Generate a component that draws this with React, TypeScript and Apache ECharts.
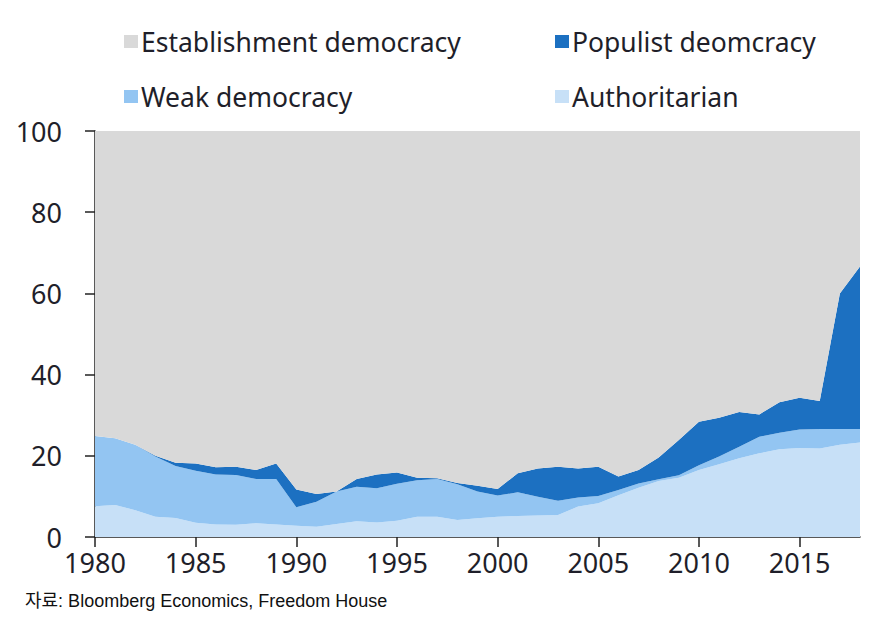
import React, { useEffect, useRef } from "react";
import * as echarts from "echarts";

const years: string[] = [];
for (let y = 1980; y <= 2018; y++) years.push(String(y));

const authoritarian = [7.6, 7.9, 6.6, 5.0, 4.7, 3.5, 3.1, 3.0, 3.4, 3.1, 2.8, 2.5, 3.2, 3.9, 3.6, 4.0, 5.0, 5.0, 4.2, 4.6, 5.0, 5.2, 5.3, 5.4, 7.5, 8.3, 10.3, 12.1, 13.8, 14.6, 16.5, 17.9, 19.4, 20.6, 21.6, 21.9, 21.8, 22.7, 23.3];
const weakDemocracy = [17.3, 16.4, 16.1, 14.8, 12.8, 12.8, 12.3, 12.3, 10.9, 11.2, 4.5, 6.2, 8.0, 8.5, 8.4, 9.1, 9.0, 9.3, 8.8, 6.6, 5.2, 5.8, 4.6, 3.5, 2.2, 1.8, 1.3, 1.1, 0.4, 0.6, 1.2, 1.9, 2.8, 4.1, 4.1, 4.6, 4.8, 3.9, 3.3];
const populistDemocracy = [0, 0, 0, 0.2, 0.8, 1.8, 1.8, 2.0, 2.2, 3.8, 4.4, 1.9, 0, 1.9, 3.4, 2.8, 0.6, 0.2, 0.3, 1.4, 1.6, 4.7, 7.0, 8.4, 7.2, 7.2, 3.3, 3.3, 5.4, 8.7, 10.7, 9.6, 8.6, 5.5, 7.5, 7.8, 6.9, 33.4, 40.0];
const establishmentDemocracy = [75.1, 75.7, 77.3, 80.0, 81.7, 81.9, 82.8, 82.7, 83.5, 81.9, 88.3, 89.4, 88.8, 85.7, 84.6, 84.1, 85.4, 85.5, 86.7, 87.4, 88.2, 84.3, 83.1, 82.7, 83.1, 82.7, 85.1, 83.5, 80.4, 76.1, 71.6, 70.6, 69.2, 69.8, 66.8, 65.7, 66.5, 40.0, 33.4];

const FONT = "'Noto Sans', 'Open Sans', sans-serif";
const TEXT = "#1f1f2a";

export default function App() {
  const ref = useRef<HTMLDivElement>(null);
  useEffect(() => {
    if (!ref.current) return;
    const chart = echarts.init(ref.current, undefined, { renderer: "svg" });
    const mk = (name: string, data: number[], color: string) => ({
      name,
      type: "line",
      stack: "total",
      data,
      symbol: "none",
      lineStyle: { width: 0 },
      areaStyle: { color, opacity: 1 },
      itemStyle: { color },
    });
    const legendCommon = {
      icon: "rect",
      itemWidth: 14,
      itemHeight: 13,
      itemGap: 6,
      textStyle: { fontFamily: FONT, fontSize: 26.5, color: TEXT, padding: [0, 0, 0, -2] },
      selectedMode: false,
      padding: 0,
    };
    chart.setOption({
      animation: false,
      grid: { left: 95, right: 14, top: 131, bottom: 85 },
      legend: [
        { ...legendCommon, data: ["Establishment democracy"], left: 124, top: 28 },
        { ...legendCommon, data: ["Populist deomcracy"], left: 555, top: 28 },
        { ...legendCommon, data: ["Weak democracy"], left: 124, top: 83 },
        { ...legendCommon, data: ["Authoritarian"], left: 555, top: 83 },
      ],
      xAxis: {
        type: "category",
        data: years,
        boundaryGap: false,
        axisLine: { lineStyle: { color: "#222", width: 1.5 } },
        axisTick: {
          length: 10,
          lineStyle: { color: "#222", width: 1.5 },
          interval: (i: number) => i % 5 === 0,
        },
        axisLabel: {
          interval: (i: number) => i % 5 === 0,
          fontFamily: FONT,
          fontSize: 27,
          color: TEXT,
          margin: 12,
        },
        splitLine: { show: false },
      },
      yAxis: {
        type: "value",
        min: 0,
        max: 100,
        interval: 20,
        axisLine: { show: true, lineStyle: { color: "#222", width: 1.5 } },
        axisTick: { show: true, length: 10, lineStyle: { color: "#222", width: 1.5 } },
        axisLabel: { fontFamily: FONT, fontSize: 27, color: TEXT, margin: 33 },
        splitLine: { show: false },
      },
      graphic: [
        {
          type: "text",
          left: 25,
          top: 592,
          style: {
            text: "자료: Bloomberg Economics, Freedom House",
            font: "18px 'Liberation Sans', Arial, 'Noto Sans CJK KR', sans-serif",
            fill: "#111",
          },
        },
      ],
      series: [
        mk("Authoritarian", authoritarian, "#c7e0f7"),
        mk("Weak democracy", weakDemocracy, "#93c5f2"),
        mk("Populist deomcracy", populistDemocracy, "#1c70c1"),
        mk("Establishment democracy", establishmentDemocracy, "#d9d9d9"),
      ],
    });
    return () => chart.dispose();
  }, []);
  return (
    <div
      ref={ref}
      style={{ position: "fixed", left: 0, top: 0, width: 874, height: 622, background: "#fff" }}
    />
  );
}
